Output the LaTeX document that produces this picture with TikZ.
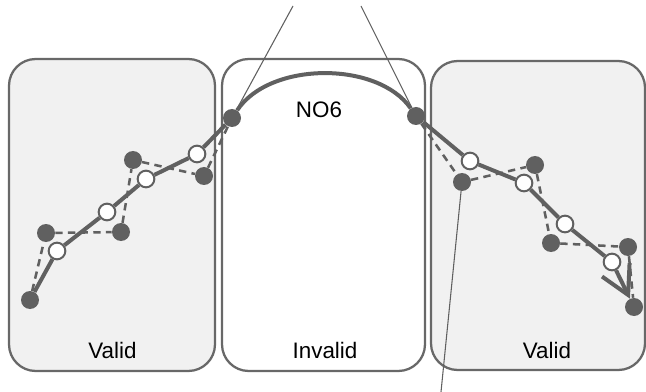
\documentclass[tikz,border=0pt]{standalone}
\usepackage{fontspec}
\setmainfont{Liberation Sans}
\usetikzlibrary{arrows.meta}
\pgfdeclarelayer{panels}
\pgfdeclarelayer{lines}
\pgfsetlayers{panels,lines,main}
\definecolor{ink}{HTML}{606060}
\definecolor{edge}{HTML}{686868}
\definecolor{panelfill}{HTML}{F1F1F1}
\begin{document}
\begin{tikzpicture}[x=0.75pt,y=-0.75pt,
 panel/.style={draw=edge,line width=1.7pt,rounded corners=20pt,minimum height=234pt,inner sep=0pt},
 fdot/.style={circle,fill=ink,minimum size=13.5pt,inner sep=0pt},
 odot/.style={circle,draw=ink,fill=white,line width=1.5pt,minimum size=12.5pt,inner sep=0pt},
 track/.style={draw=ink,line width=3pt,line join=round},
 guess/.style={draw=ink,line width=1.9pt,dash pattern=on 5.5pt off 4pt},
 pointer/.style={draw=ink,line width=0.8pt},
 lbl/.style={font=\fontsize{16.8pt}{19pt}\selectfont,anchor=base,inner sep=0pt}]
\useasboundingbox (0,0) rectangle (646,392);
\begin{pgfonlayer}{panels}
\node[panel,fill=panelfill,minimum width=154.5pt] (left) at (112,215) {};
\node[panel,fill=white,minimum width=152.25pt] (mid) at (323.5,215) {};
\node[panel,fill=panelfill,minimum width=160.5pt,minimum height=231.75pt] (right) at (538,215.5) {};
\end{pgfonlayer}
\node[lbl] (vl) at (112.5,358) {Valid};
\node[lbl] (inv) at (325,358) {Invalid};
\node[lbl] (vr) at (547,358) {Valid};
\node[lbl] (no6) at (319,118) {NO6};
% filled points
\node[fdot] (f1) at (30,300) {};
\node[fdot] (f2) at (46,233) {};
\node[fdot] (f3) at (121,232) {};
\node[fdot] (f4) at (133,160) {};
\node[fdot] (f5) at (204,176) {};
\node[fdot] (j1) at (232,118) {};
\node[fdot] (j2) at (416,116) {};
\node[fdot] (f6) at (462,182) {};
\node[fdot] (f7) at (535,165) {};
\node[fdot] (f8) at (551,243) {};
\node[fdot] (f9) at (628,247) {};
\node[fdot] (f10) at (634,307) {};
% open points
\node[odot] (o1) at (57,251) {};
\node[odot] (o2) at (107,212) {};
\node[odot] (o3) at (146,179) {};
\node[odot] (o4) at (197,154) {};
\node[odot] (o5) at (470,161) {};
\node[odot] (o6) at (524,183) {};
\node[odot] (o7) at (565,224) {};
\node[odot] (o8) at (612,262) {};
\coordinate (top1) at (293,6);
\coordinate (top2) at (361,6);
\coordinate (bot) at (441,392);
\begin{pgfonlayer}{lines}
\path[pointer] (j1) -- (top1);
\path[pointer] (j2) -- (top2);
\path[pointer] (f6) -- (bot);
\path[guess] (f1) -- (f2) -- (f3) -- (f4) -- (f5) -- (j1);
\path[guess] (j2) -- (f6) -- (f7) -- (f8) -- (f9) -- (f10);
\path[track] (f1) -- (o1) -- (o2) -- (o3) -- (o4) -- (j1) .. controls (270,61) and (378,61) .. (j2) -- (o5) -- (o6) -- (o7) -- (o8);
\path[track,-{Straight Barb[length=21pt,width=23pt]}] (o8) -- (f10);
\end{pgfonlayer}
\end{tikzpicture}
\end{document}
